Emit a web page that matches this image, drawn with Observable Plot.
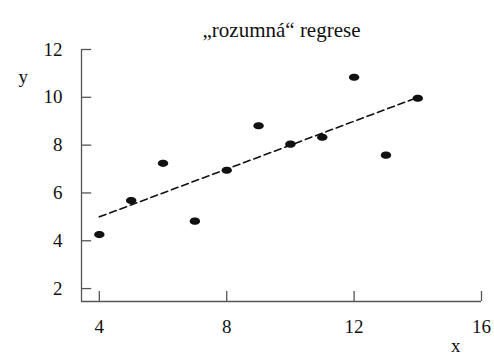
<!DOCTYPE html>
<html><head><meta charset="utf-8">
<script src="https://cdn.jsdelivr.net/npm/d3@7"></script>
<script src="https://cdn.jsdelivr.net/npm/@observablehq/plot@0.6"></script>
<style>body{margin:0;background:#fff}</style>
</head><body><div id="chart"></div>
<script>
const xs = [10, 8, 13, 9, 11, 14, 6, 4, 12, 7, 5];
const ys = [8.04, 6.95, 7.58, 8.81, 8.33, 9.96, 7.24, 4.26, 10.84, 4.82, 5.68];
const lineX = [4, 14];
const lineY = [5, 10];
const xTicks = [4, 8, 12, 16];
const yTicks = [2, 4, 6, 8, 10, 12];
const title = "„rozumná“ regrese";

const pts = xs.map((x, i) => ({x, y: ys[i]}));
const line = lineX.map((x, i) => ({x, y: lineY[i]}));
const xmin = 3.44, ymin = 1.46;
const font = "Liberation Serif";

const ellipse = {
  draw(ctx, size) {
    const rx = 5.2, ry = 3.6, k = 0.5523;
    ctx.moveTo(-rx, 0);
    ctx.bezierCurveTo(-rx, -ry * k, -rx * k, -ry, 0, -ry);
    ctx.bezierCurveTo(rx * k, -ry, rx, -ry * k, rx, 0);
    ctx.bezierCurveTo(rx, ry * k, rx * k, ry, 0, ry);
    ctx.bezierCurveTo(-rx * k, ry, -rx, ry * k, -rx, 0);
    ctx.closePath();
  }
};

const T = {fontFamily: font, fontSize: 19, fill: "#111"};

const chart = Plot.plot({
  width: 494, height: 360,
  marginLeft: 81, marginRight: 13, marginTop: 49, marginBottom: 59,
  x: {domain: [xmin, 16], axis: null},
  y: {domain: [ymin, 12], axis: null},
  style: {fontFamily: font, background: "#fff"},
  marks: [
    Plot.ruleX([xmin], {y1: ymin, y2: 12, stroke: "#555", strokeWidth: 1.3}),
    Plot.ruleY([ymin], {x1: xmin, x2: 16, stroke: "#555", strokeWidth: 1.3}),
    Plot.ruleY(yTicks, {x1: xmin, x2: xmin + 0.32, stroke: "#555", strokeWidth: 1.3}),
    Plot.ruleX(xTicks, {y1: ymin, y2: ymin + 0.42, stroke: "#555", strokeWidth: 1.3}),
    Plot.text(yTicks, {x: xmin, y: d => d, text: d => String(d), textAnchor: "end", dx: -19, ...T}),
    Plot.text(xTicks, {x: d => d, y: ymin, text: d => String(d), dy: 25, ...T}),
    Plot.text([title], {frameAnchor: "top", dy: -27, ...T, fontSize: 21}),
    Plot.text(["y"], {frameAnchor: "top-left", dx: -63, dy: 20, ...T}),
    Plot.text(["x"], {frameAnchor: "bottom-right", dx: -21, dy: 50, ...T}),
    Plot.line(line, {x: "x", y: "y", stroke: "#111", strokeWidth: 1.6, strokeDasharray: "7,4"}),
    Plot.dot(pts, {x: "x", y: "y", symbol: ellipse, r: 4, fill: "#111", stroke: "none"})
  ]
});
document.getElementById("chart").append(chart);
</script></body></html>
